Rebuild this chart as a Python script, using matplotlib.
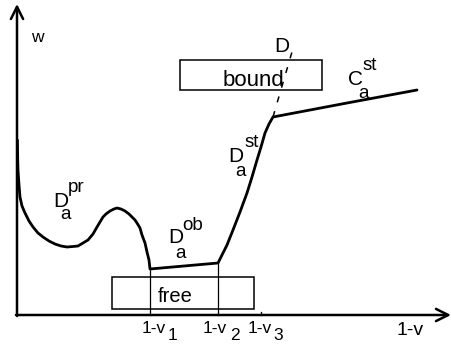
import matplotlib
matplotlib.use('Agg')
import matplotlib.pyplot as plt
from matplotlib.patches import Rectangle

plt.rcParams['font.family'] = ['Liberation Sans', 'DejaVu Sans']

# curve w(1-v) (arbitrary units)
curve_x = [0.4, 0.7, 1, 2, 3, 5, 8, 12, 16, 21, 26, 32, 38, 44, 50, 56, 61, 66, 71, 76,
           80, 83, 86, 89, 93, 97, 100, 104, 108, 112, 115, 118, 120, 123, 125, 128, 130, 132, 133,
           201, 205, 210, 216, 223, 230, 235, 240, 244, 248, 252, 256, 330, 400]
curve_y = [175, 155, 145, 130, 118, 109, 102, 94, 88, 82, 78, 74, 71, 69, 68, 68.5, 69, 72, 75, 81,
           88, 93, 98, 101, 104, 106, 107, 106, 104, 101, 98, 95, 92, 87, 80, 72, 63, 55, 46,
           52, 60, 70, 85, 103, 122, 138, 155, 168, 182, 191, 198, 212, 225]

# dashed extension of D_a^st
dash_x = [256, 277]
dash_y = [198, 270]

# marked positions on the 1-v axis
v_pos = [133, 201, 244]
v_top = [46, 52, 3]
v_subs = ['1', '2', '3']

# boxes: (x0, x1, y0, y1)
free_box = (95, 237, 6, 38)
bound_box = (163, 305, 225, 255)

fig = plt.figure(figsize=(4.51, 3.48), dpi=100)
ax = fig.add_axes([0, 0, 1, 1])
ax.set_xlim(-17, 434)
ax.set_ylim(-33, 315)
ax.axis('off')


def txt(px, py, s, size):
    # px, py: left / baseline in picture pixels
    ax.text(px - 17, 315 - py, s, fontsize=size, ha='left', va='baseline')


# axes with open arrow heads
ax.annotate('', xy=(0, 311), xytext=(0, -1),
            arrowprops=dict(arrowstyle='->', lw=1.8, mutation_scale=22, color='black',
                            shrinkA=0, shrinkB=0))
ax.annotate('', xy=(434, 0), xytext=(-1, 0),
            arrowprops=dict(arrowstyle='->', lw=1.8, mutation_scale=22, color='black',
                            shrinkA=0, shrinkB=0))

ax.plot(curve_x, curve_y, color='black', lw=2.0, solid_joinstyle='round', solid_capstyle='round')
ax.plot(dash_x, dash_y, color='black', lw=1.1, linestyle=(0, (4, 6)))

for x, yt in zip(v_pos, v_top):
    ax.plot([x, x], [0, yt], color='black', lw=0.9)

for x0, x1, y0, y1 in [free_box, bound_box]:
    ax.add_patch(Rectangle((x0, y0), x1 - x0, y1 - y0, fill=False, lw=1.1, ec='black'))

txt(158, 302, 'free', 14.5)
txt(223, 86, 'bound', 16)

# tick labels 1-v_i
tick_px = [142, 203, 248]
sub_px = [168, 230, 273]
for tx, sx, s in zip(tick_px, sub_px, v_subs):
    txt(tx, 333, '1-v', 12.5)
    txt(sx, 340, s, 12.5)

txt(397, 335, '1-v', 14)
txt(31, 42, 'w', 12.5)

# curve segment labels: main letter, subscript, superscript (picture pixels, baselines)
labels = [
    ('D', 53, 207, 'a', 60, 219, 'pr', 68, 192),
    ('D', 168, 243, 'a', 175, 258, 'ob', 182, 230),
    ('D', 228, 162, 'a', 235, 176, 'st', 245, 147),
    ('C', 348, 85, 'a', 358, 98, 'st', 363, 70),
]
for m, mx, my, sb, bx, by, sp, px, py in labels:
    txt(mx, my, m, 15)
    txt(bx, by, sb, 13.5)
    txt(px, py, sp, 13.5)

txt(274, 52, 'D', 15)

fig.savefig('out.png', dpi=100)
